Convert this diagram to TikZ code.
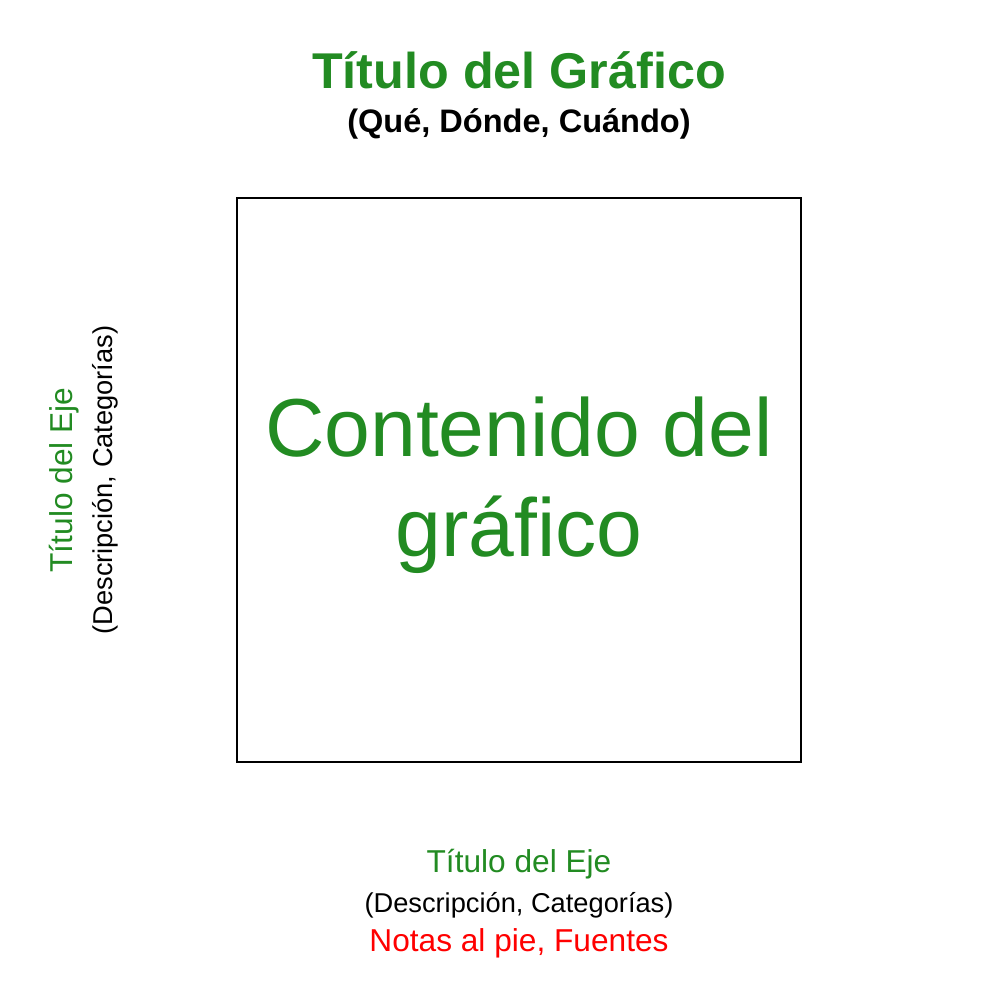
\documentclass[tikz,border=0pt]{standalone}
\usepackage{fontspec}
\setmainfont{Liberation Sans}
\usepackage{tikz}
\usetikzlibrary{positioning}
\definecolor{chartgreen}{HTML}{228B22}
\definecolor{notered}{HTML}{FF0000}

\begin{document}
\begin{tikzpicture}[
  x=0.01cm, y=-0.01cm,
  title/.style={anchor=base, inner sep=0pt, font=\fontsize{14.3}{17}\selectfont\bfseries, text=chartgreen},
  subtitle/.style={anchor=base, inner sep=0pt, font=\fontsize{9.25}{11}\selectfont\bfseries},
  axistitle/.style={anchor=base, inner sep=0pt, font=\fontsize{9}{11}\selectfont, text=chartgreen},
  axisdesc/.style={anchor=base, inner sep=0pt, font=\fontsize{7.75}{9}\selectfont},
  notes/.style={anchor=base, inner sep=0pt, font=\fontsize{9}{11}\selectfont, text=notered},
  content/.style={inner sep=0pt, align=center, font=\fontsize{23.4}{28.45}\selectfont, text=chartgreen},
  plotbox/.style={draw=black, line width=0.45pt}
]
  \useasboundingbox (0,0) rectangle (1000,1000);

  \node[title] (title) at (519,88) {Título del Gráfico};
  \node[subtitle] (subtitle) at (519,132) {(Qué, Dónde, Cuándo)};

  \draw[plotbox] (237,198) rectangle (801,762);
  \node[content] (content) at (519,485) {Contenido del\\gráfico};

  \node[axistitle, rotate=90] (ytitle) at (72,480) {Título del Eje};
  \node[axisdesc, rotate=90] (ydesc) at (112,480) {(Descripción, Categorías)};

  \node[axistitle] (xtitle) at (519,872) {Título del Eje};
  \node[axisdesc] (xdesc) at (519,912) {(Descripción, Categorías)};
  \node[notes] (notes) at (519,951) {Notas al pie, Fuentes};
\end{tikzpicture}
\end{document}
